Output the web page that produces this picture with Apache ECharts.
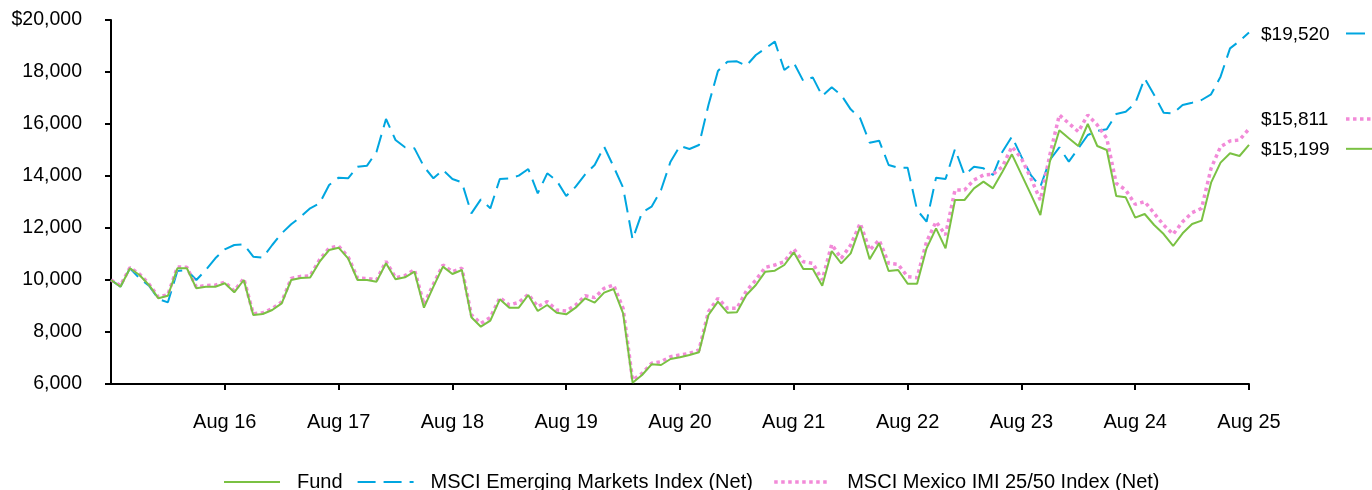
<!DOCTYPE html>
<html>
<head>
<meta charset="utf-8">
<script src="https://cdn.jsdelivr.net/npm/echarts@6/dist/echarts.min.js"></script>
<style>html,body{margin:0;padding:0;background:#fff;}#c{width:1372px;height:490px;}</style>
</head>
<body>
<div id="c"></div>
<script>
// Monthly, Aug 2015 .. Aug 2025
const startYear = 2015, startMonth = 7; // Aug
const monthNames = ['Jan','Feb','Mar','Apr','May','Jun','Jul','Aug','Sep','Oct','Nov','Dec'];
const categories = [];
for (let k = 0; k <= 120; k++) {
  const m = (startMonth + k) % 12;
  const y = startYear + Math.floor((startMonth + k) / 12);
  categories.push(monthNames[m] + ' ' + String(y).slice(2));
}

const seriesNames = ['Fund', 'MSCI Emerging Markets Index (Net)', 'MSCI Mexico IMI 25/50 Index (Net)'];

const fund = [10000,9742,10450,10190,9810,9296,9396,10450,10450,9680,9742,9742,9873,9527,10000,8654,8692,8846,9103,10000,
10080,10100,10704,11154,11244,10833,10000,10000,9936,10641,10026,10103,10320,8936,9743,10513,10231,10385,8564,8205,
8440,9256,8936,8936,9423,8808,9038,8744,8680,8936,9295,9128,9513,9654,8718,6051,6346,6756,6731,6962,
7030,7115,7218,8654,9167,8744,8757,9423,9808,10320,10359,10577,11064,10423,10423,9782,11115,10641,11026,12051,
10800,11410,10346,10385,9859,9859,11218,11987,11218,13077,13077,13526,13782,13526,14167,14833,14064,13295,12500,14551,
15760,15449,15154,16000,15154,15000,13231,13179,12397,12538,12115,11769,11308,11795,12154,12282,13744,14513,14872,14769,15199];

const emIndex = [10000,9744,10449,10064,9782,9269,9141,10346,10385,10000,10385,10833,11179,11346,11372,10897,10859,11346,11795,12141,
12430,12757,12949,13654,13936,13910,14359,14397,14936,16192,15385,15103,15064,14359,13910,14231,13885,13756,12564,13100,
12757,13885,13910,14013,14269,13333,14103,13821,13231,13590,14064,14423,15128,14359,13551,11564,12603,12820,13462,14551,
15160,15038,15192,16731,18038,18397,18410,18244,18654,18910,19166,18077,18359,17654,17795,17077,17410,17115,16564,16218,
15280,15359,14423,14321,14321,12692,12243,13936,13885,15038,14038,14359,14295,14038,14936,15513,14744,14038,13590,14615,
15100,14551,15064,15577,15731,15795,16385,16474,16795,17756,17115,16436,16410,16731,16820,16923,17141,17820,18910,19192,19520];

const mexIndex = [10000,9790,10480,10230,9850,9340,9440,10500,10490,9730,9790,9800,9920,9580,10060,8700,8740,8900,9160,10060,
10140,10160,10780,11230,11300,10900,10070,10060,10000,10720,10090,10170,10400,9060,9840,10580,10320,10460,8660,8330,
8560,9321,9038,9141,9449,8974,9167,8846,8808,9038,9397,9321,9679,9808,8910,6154,6410,6795,6859,7051,
7115,7179,7308,8782,9295,8910,8910,9577,10000,10487,10577,10705,11192,10705,10641,10000,11372,10833,11346,12179,
11150,11538,10641,10603,10128,10090,11474,12243,11731,13462,13462,13846,14038,14064,14359,15128,14679,13910,13077,14808,
16346,16026,15705,16346,15962,15449,13718,13462,12910,13013,12564,12115,11756,12243,12589,12757,14295,15128,15346,15385,15811];

const yTicks = [6000, 8000, 10000, 12000, 14000, 16000, 18000, 20000];

const colors = { fund: '#7AC143', em: '#00A6E0', mex: '#F28AD8' };
const FONT = '"Liberation Sans", Arial, sans-serif';

const chart = echarts.init(document.getElementById('c'), null, { renderer: 'canvas' });

function fmtMoney(v) { return '$' + v.toLocaleString('en-US'); }
function showYear(i) { return i > 0 && i % 12 === 0; }

const endLbl = (off) => ({
  show: true,
  formatter: (p) => fmtMoney(p.value),
  fontFamily: FONT, fontSize: 19, color: '#000',
  distance: 12, offset: off
});

const legendText = { fontFamily: FONT, fontSize: 20, color: '#000', padding: [0, 0, 0, 12] };

const option = {
  animation: false,
  backgroundColor: '#fff',
  textStyle: { fontFamily: FONT },
  grid: { left: 111, right: 123, top: 20, bottom: 106, containLabel: false },
  legend: {
    data: [
      { name: seriesNames[0] },
      { name: seriesNames[1] },
      { name: seriesNames[2], lineStyle: { width: 3.5, type: [3.5, 3.5] } }
    ],
    formatter: (n) => n === seriesNames[1] ? n + '\u00a0' : n,
    left: 218, top: 467,
    itemWidth: 56, itemHeight: 14, itemGap: 14,
    itemStyle: { opacity: 0 },
    textStyle: legendText
  },
  xAxis: {
    type: 'category',
    data: categories,
    boundaryGap: false,
    axisLine: { show: true, lineStyle: { color: '#000', width: 2 } },
    axisTick: { show: true, length: 6, interval: (i) => showYear(i), lineStyle: { color: '#000', width: 2 } },
    axisLabel: { interval: (i) => showYear(i), fontFamily: FONT, fontSize: 20, color: '#000', margin: 28 },
    splitLine: { show: false }
  },
  yAxis: {
    type: 'value',
    min: 6000, max: 20000, interval: 2000,
    axisLine: { show: true, lineStyle: { color: '#000', width: 2 } },
    axisTick: { show: true, length: 6, lineStyle: { color: '#000', width: 2 } },
    axisLabel: {
      fontFamily: FONT, fontSize: 19.5, color: '#000', margin: 29,
      formatter: (v) => v === 20000 ? fmtMoney(v) : v.toLocaleString('en-US')
    },
    splitLine: { show: false }
  },
  series: [
    {
      name: seriesNames[1], type: 'line', data: emIndex, symbol: 'none', z: 2,
      lineStyle: { color: colors.em, width: 2, type: [18, 8] },
      itemStyle: { color: colors.em },
      endLabel: endLbl([0, 2])
    },
    {
      name: seriesNames[2], type: 'line', data: mexIndex, symbol: 'none', z: 3,
      lineStyle: { color: colors.mex, width: 3.5, type: [3.5, 3.5] },
      itemStyle: { color: colors.mex },
      endLabel: endLbl([0, -9])
    },
    {
      name: seriesNames[0], type: 'line', data: fund, symbol: 'none', z: 4,
      lineStyle: { color: colors.fund, width: 2 },
      itemStyle: { color: colors.fund },
      endLabel: endLbl([0, 5])
    }
  ]
};
chart.setOption(option);

// Markers after the end labels
const last = categories.length - 1;
const marks = [
  { v: emIndex[last], dy: 1, color: colors.em, dash: null, w: 2, x2: 1365 },
  { v: mexIndex[last], dy: -10, color: colors.mex, dash: [3.5, 3.5], w: 3.5, x2: 1372 },
  { v: fund[last], dy: 4, color: colors.fund, dash: null, w: 2, x2: 1372 }
];
const graphics = marks.map(m => {
  const y = chart.convertToPixel({ yAxisIndex: 0 }, m.v) + m.dy;
  return {
    type: 'line', shape: { x1: 1346, y1: y, x2: m.x2, y2: y },
    style: { stroke: m.color, lineWidth: m.w, lineDash: m.dash }
  };
});
chart.setOption({ graphic: graphics });
</script>
</body>
</html>
